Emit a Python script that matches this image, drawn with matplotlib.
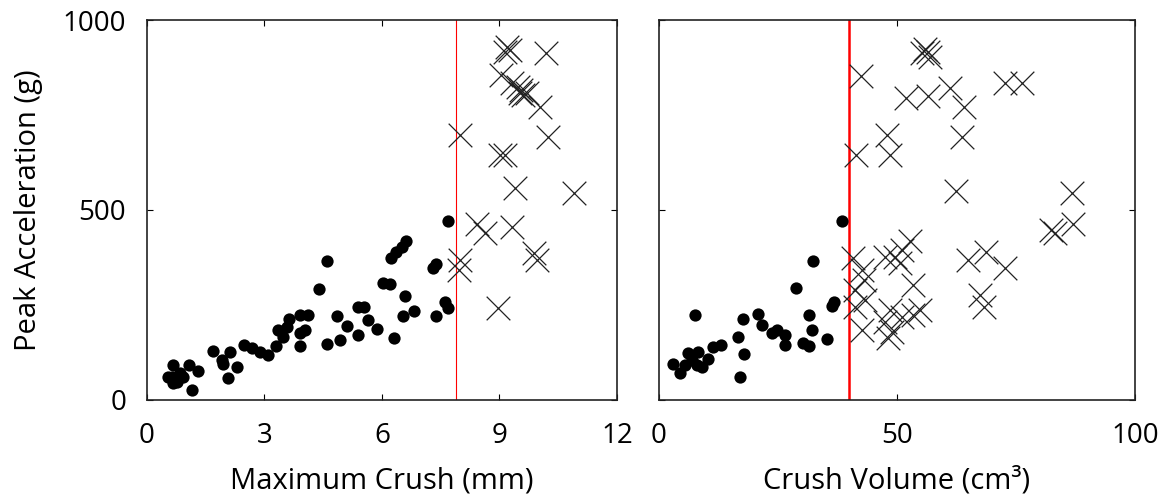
import matplotlib
matplotlib.use('Agg')
import matplotlib.pyplot as plt

# left panel: maximum crush (mm) vs peak acceleration (g)
crush_dot_x = [0.63, 0.67, 1.06, 1.31, 0.54, 0.76, 0.93, 1.14, 0.84, 0.67,
               1.69, 1.91, 2.12, 2.29, 2.08, 1.95, 2.48, 2.67, 2.88, 3.10,
               3.29, 3.35, 3.48, 3.63, 3.57, 3.91, 4.12, 4.03, 3.91, 3.91,
               4.40, 4.59, 4.59, 4.84, 4.93, 5.10, 5.39, 5.54, 5.39, 5.65,
               5.86, 6.02, 6.20, 6.22, 6.37, 6.61, 6.50, 6.30, 6.59, 6.54,
               6.82, 7.31, 7.39, 7.38, 7.61, 7.69, 7.69]
crush_dot_y = [61, 92, 92, 75, 61, 48, 61, 25, 70, 44,
               130, 105, 125, 88, 59, 96, 145, 138, 125, 118,
               142, 184, 167, 212, 193, 224, 224, 184, 175, 142,
               292, 366, 147, 221, 158, 195, 246, 246, 171, 211,
               186, 307, 304, 373, 390, 418, 403, 162, 274, 221,
               235, 347, 358, 221, 259, 241, 472]

crush_x_x = [9.18, 9.27, 9.14, 10.19, 9.05, 9.31, 9.48, 9.56, 9.61, 9.69,
             9.52, 10.03, 8.00, 10.25, 9.01, 9.14, 9.39, 10.90, 8.42, 8.63,
             9.33, 9.87, 9.95, 7.99, 7.97, 8.95]
crush_x_y = [930, 920, 917, 912, 855, 833, 824, 816, 803, 807,
             807, 772, 697, 693, 645, 645, 557, 546, 463, 439,
             456, 386, 368, 368, 342, 241]

# right panel: crush volume (cm3) vs peak acceleration (g)
vol_dot_x = [3.0, 4.4, 6.2, 8.3, 6.9, 9.0, 10.4, 5.5, 8.0, 11.4,
             13.0, 7.6, 16.7, 17.0, 17.9, 17.6, 20.9, 21.6, 23.7, 24.9,
             26.5, 26.5, 28.8, 30.3, 31.6, 31.5, 32.1, 32.3, 35.4, 36.3,
             36.8, 38.4]
vol_dot_y = [94, 70, 123, 127, 105, 86, 108, 92, 92, 140,
             145, 224, 167, 61, 120, 213, 226, 197, 175, 184,
             171, 145, 294, 150, 142, 224, 184, 366, 160, 247,
             258, 472]

vol_x_x = [55.9, 56.6, 55.2, 57.0, 42.4, 51.8, 56.6, 61.1, 64.1, 72.7,
           76.2, 48.0, 48.5, 63.6, 41.3, 62.5, 86.8, 40.8, 42.6, 43.0,
           41.2, 43.2, 41.2, 42.6, 47.5, 49.6, 51.0, 52.7, 50.6, 48.5,
           47.5, 48.9, 48.2, 51.0, 53.4, 54.8, 53.4, 65.0, 68.8, 72.8,
           67.4, 68.3, 82.4, 83.2, 87.0]
vol_x_y = [925, 917, 912, 903, 853, 794, 800, 820, 772, 833,
           835, 697, 645, 693, 645, 550, 546, 373, 342, 316,
           289, 263, 246, 184, 377, 377, 395, 419, 360, 237,
           206, 180, 162, 219, 303, 237, 224, 368, 390, 348,
           276, 246, 447, 439, 462]

crush_limit = 7.9
vol_limit = 40

plt.rcParams['font.family'] = ['Open Sans', 'DejaVu Sans']
fig = plt.figure(figsize=(11.63, 4.94), dpi=100)
ax1 = fig.add_axes([0.1264, 0.1903, 0.4041, 0.7692])
ax2 = fig.add_axes([0.5666, 0.1903, 0.4093, 0.7692])

ax1.scatter(crush_dot_x, crush_dot_y, s=78, c='black', marker='o', linewidths=0, zorder=3)
ax1.scatter(crush_x_x, crush_x_y, s=290, c='#222222', marker='x', linewidths=0.9, zorder=3)
ax1.axvline(crush_limit, color='red', lw=0.8, zorder=2)
ax1.set_xlim(0, 12)
ax1.set_xticks([0, 3, 6, 9, 12])
ax1.set_xlabel('Maximum Crush (mm)', fontsize=21, labelpad=12)
ax1.set_ylabel('Peak Acceleration (g)', fontsize=21, labelpad=14)

ax2.scatter(vol_dot_x, vol_dot_y, s=78, c='black', marker='o', linewidths=0, zorder=3)
ax2.scatter(vol_x_x, vol_x_y, s=290, c='#222222', marker='x', linewidths=0.9, zorder=3)
ax2.axvline(vol_limit, color='red', lw=1.8, zorder=2)
ax2.set_xlim(0, 100)
ax2.set_xticks([0, 50, 100])
ax2.set_xlabel('Crush Volume (cm³)', fontsize=21, labelpad=12)

for ax in (ax1, ax2):
    ax.set_ylim(0, 1000)
    ax.set_yticks([0, 500, 1000])
    ax.tick_params(direction='in', length=4, width=0.8, top=True, right=True,
                   labelsize=20)
    ax.tick_params(axis='y', pad=15)
    ax.tick_params(axis='x', pad=16)
    for sp in ax.spines.values():
        sp.set_linewidth(1.2)
        sp.set_color('#222222')
ax2.set_yticklabels([])

fig.savefig('out.png', dpi=100)
